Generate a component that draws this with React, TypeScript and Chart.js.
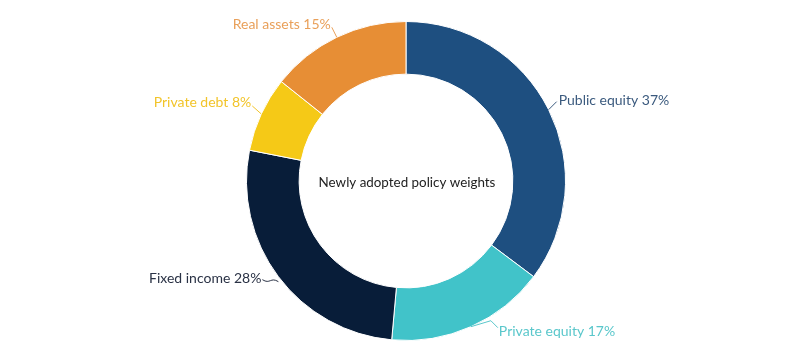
import React, { useEffect, useRef } from "react";
import { Chart, registerables } from "chart.js";

Chart.register(...registerables);

const categories = ["Public equity", "Private equity", "Fixed income", "Private debt", "Real assets"];
const weights = [37, 17, 28, 8, 15];
const segmentColors = ["#1E4F80", "#41C3C9", "#081D39", "#F5C917", "#E78E35"];
const labelColors = ["#3B5A7E", "#5AC7CB", "#2A3245", "#F2C42A", "#E9A05A"];
const centerTitle = "Newly adopted policy weights";

// label layout relative to the outer-edge midpoint of each arc
const labelLayout = [
  { line: [[0, 0], [8, -8]], curve: false, tx: 10, ty: -9, align: "left" },
  { line: [[0, 0], [20, -6], [27, 1]], curve: false, tx: 28, ty: 5, align: "left" },
  { line: [[0, 5], [-16, 3]], curve: true, tx: -17, ty: 2, align: "right" },
  { line: [[0, 0], [-9, -8]], curve: false, tx: -10, ty: -11, align: "right" },
  { line: [[0, 0], [-5, -10]], curve: false, tx: -6, ty: -13, align: "right" },
];

const FONT = "14px Lato, 'Open Sans', sans-serif";
const CENTER_FONT = "13.4px Lato, 'Open Sans', sans-serif";

const labelPlugin = {
  id: "doughnutLabels",
  afterDraw(chart: any) {
    const ctx = chart.ctx;
    const meta = chart.getDatasetMeta(0);
    ctx.save();
    meta.data.forEach((arc: any, i: number) => {
      const { x, y, startAngle, endAngle, outerRadius } = arc.getProps(
        ["x", "y", "startAngle", "endAngle", "outerRadius"],
        true
      );
      const mid = (startAngle + endAngle) / 2;
      const ax = x + Math.cos(mid) * outerRadius;
      const ay = y + Math.sin(mid) * outerRadius;
      const cfg = labelLayout[i];
      ctx.strokeStyle = labelColors[i];
      ctx.lineWidth = 1;
      ctx.beginPath();
      const pts = cfg.line;
      if (cfg.curve) {
        const [p0, p1] = pts;
        ctx.moveTo(ax + p0[0], ay + p0[1]);
        const mx = (p0[0] + p1[0]) / 2;
        ctx.bezierCurveTo(
          ax + mx, ay + p0[1] - 5,
          ax + mx, ay + p1[1] + 5,
          ax + p1[0], ay + p1[1]
        );
      } else {
        ctx.moveTo(ax + pts[0][0], ay + pts[0][1]);
        for (let k = 1; k < pts.length; k++) ctx.lineTo(ax + pts[k][0], ay + pts[k][1]);
      }
      ctx.stroke();
      ctx.fillStyle = labelColors[i];
      ctx.font = FONT;
      ctx.textAlign = cfg.align;
      ctx.textBaseline = "middle";
      ctx.fillText(`${categories[i]} ${weights[i]}%`, ax + cfg.tx, ay + cfg.ty);
    });
    const arc0 = meta.data[0];
    ctx.fillStyle = "#222222";
    ctx.font = CENTER_FONT;
    ctx.textAlign = "center";
    ctx.textBaseline = "middle";
    ctx.fillText(centerTitle, arc0.x + 1, arc0.y + 2);
    ctx.restore();
  },
};

export default function App() {
  const ref = useRef<HTMLCanvasElement | null>(null);
  useEffect(() => {
    document.body.style.margin = "0";
    const chart = new Chart(ref.current as HTMLCanvasElement, {
      type: "doughnut",
      data: {
        labels: categories,
        datasets: [
          {
            data: weights,
            backgroundColor: segmentColors,
            borderColor: "#ffffff",
            borderWidth: 1,
          },
        ],
      },
      options: {
        responsive: false,
        animation: false,
        cutout: "67%",
        layout: { padding: { top: 21, bottom: 20, left: 12, right: 0 } },
        plugins: {
          legend: { display: false },
          tooltip: { enabled: false },
        },
      },
      plugins: [labelPlugin],
    } as any);
    return () => chart.destroy();
  }, []);
  return (
    <div style={{ width: 800, height: 361, background: "#fff" }}>
      <canvas ref={ref} width={800} height={361} style={{ display: "block" }} />
    </div>
  );
}
